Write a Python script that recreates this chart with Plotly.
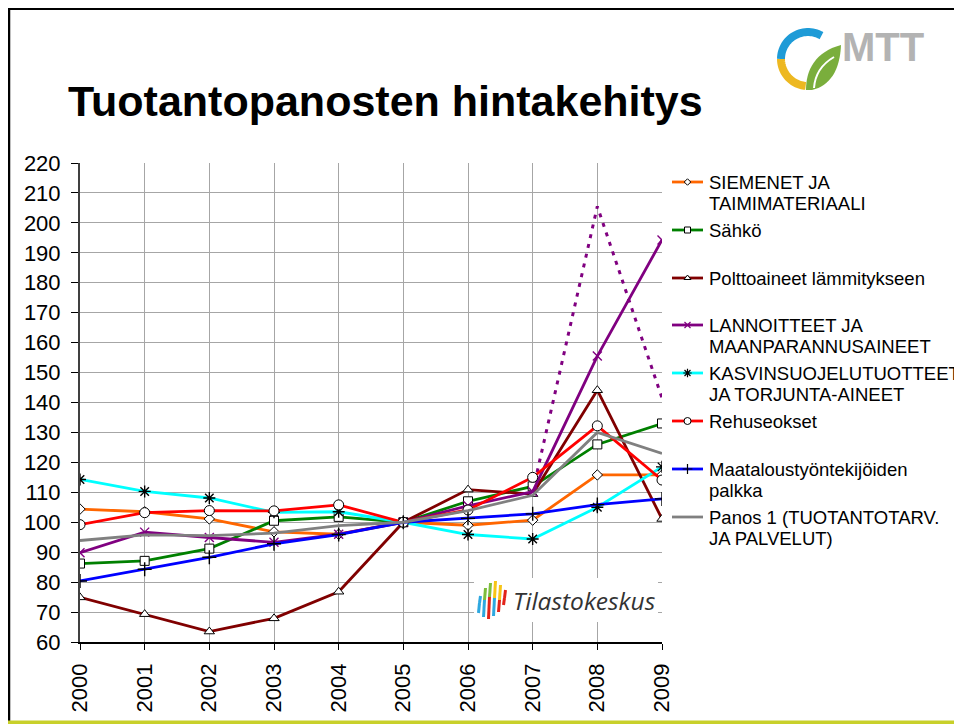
import math
import plotly.graph_objects as go

# ──────────────────────────────────────────────
#  Data (index)
# ──────────────────────────────────────────────
years = [2000, 2001, 2002, 2003, 2004, 2005, 2006, 2007, 2008, 2009]

siemenet = [104.4, 103.5, 101.1, 96.8, 96.0, 100, 99.0, 100.7, 115.8, 115.8]
sahko = [86.2, 87.1, 91.2, 100.5, 101.8, 100, 107.0, 112.0, 126.0, 133.0]
polttoaineet = [74.9, 69.3, 63.5, 67.9, 76.8, 100, 110.9, 109.4, 144.1, 101.1]
lannoitteet = [89.8, 96.7, 94.9, 93.3, 96.0, 100, 105.5, 110.2, 155.5, 194.3]
kasvinsuojelu = [114.3, 110.3, 108.1, 103.3, 103.5, 100, 95.9, 94.4, 105.0, 118.5]
rehuseokset = [99.2, 103.2, 103.9, 103.8, 105.8, 100, 104.1, 115.0, 132.2, 114.1]
palkka = [80.4, 84.3, 88.3, 92.8, 95.9, 100, 101.3, 102.8, 105.9, 107.8]
panos1 = [93.9, 95.8, 95.5, 96.4, 98.9, 100, 103.9, 109.0, 130.0, 123.0]

# dotted alternative fertiliser series (not in legend)
lannoitteet_alt_years = [2007, 2008, 2009]
lannoitteet_alt = [110.2, 205.5, 141.5]

y_ticks = list(range(60, 230, 10))

FONT = "Liberation Sans, Arial, sans-serif"
W, H = 962, 724
OFF = 8  # page body margin: figure pixel 0 lands at screen pixel 8

# name, values, colour, symbol, marker size, marker fill, marker outline, legend lines
series = [
    ("SIEMENET JA TAIMIMATERIAALI", siemenet, "#FF6600", "diamond", 8, "white", "black",
     ["SIEMENET JA", "TAIMIMATERIAALI"]),
    ("Sähkö", sahko, "#008000", "square", 9, "white", "black", ["Sähkö"]),
    ("Polttoaineet lämmitykseen", polttoaineet, "#800000", "triangle-up", 9, "white", "black",
     ["Polttoaineet lämmitykseen"]),
    ("LANNOITTEET JA MAANPARANNUSAINEET", lannoitteet, "#800080", "x-thin-open", 9, None, "#800080",
     ["LANNOITTEET JA", "MAANPARANNUSAINEET"]),
    ("KASVINSUOJELUTUOTTEET JA TORJUNTA-AINEET", kasvinsuojelu, "#00FFFF", "asterisk-open", 10, None, "black",
     ["KASVINSUOJELUTUOTTEET", "JA TORJUNTA-AINEET"]),
    ("Rehuseokset", rehuseokset, "#FF0000", "circle", 10, "white", "black", ["Rehuseokset"]),
    ("Maataloustyöntekijöiden palkka", palkka, "#0000FF", "cross-thin-open", 10, None, "black",
     ["Maataloustyöntekijöiden", "palkka"]),
    ("Panos 1 (TUOTANTOTARV. JA PALVELUT)", panos1, "#808080", None, 0, None, None,
     ["Panos 1 (TUOTANTOTARV.", "JA PALVELUT)"]),
]

# legend layout (screen rows of first text line)
legend_rows = [182, 230, 278, 325, 373, 421, 469, 517]
legend_line_gap = 21.5

fig = go.Figure()

fig.add_trace(go.Scatter(
    x=lannoitteet_alt_years, y=lannoitteet_alt, mode="lines",
    line=dict(color="#800080", width=3, dash="4px,6px"),
    showlegend=False, hoverinfo="skip"))

for name, vals, color, sym, size, fill, outline, _ in series:
    if sym:
        marker = dict(symbol=sym, size=size, color=fill if fill else outline,
                      line=dict(color=outline, width=1 if fill else 1.4))
        mode = "lines+markers"
    else:
        marker = None
        mode = "lines"
    fig.add_trace(go.Scatter(x=years, y=vals, mode=mode, name=name,
                             line=dict(color=color, width=2.8),
                             marker=marker, showlegend=False))

# ──────────────────────────────────────────────
#  Hand-drawn legend on a screen-pixel overlay axis
# ──────────────────────────────────────────────
annotations = []
for (name, vals, color, sym, size, fill, outline, lines), row in zip(series, legend_rows):
    fig.add_trace(go.Scatter(x=[672, 703], y=[row, row], mode="lines",
                             line=dict(color=color, width=2.8),
                             xaxis="x2", yaxis="y2", showlegend=False, hoverinfo="skip"))
    if sym:
        fig.add_trace(go.Scatter(
            x=[687.5], y=[row], mode="markers",
            marker=dict(symbol=sym, size=size - 3, color=fill if fill else outline,
                        line=dict(color=outline, width=1 if fill else 1.2)),
            xaxis="x2", yaxis="y2", showlegend=False, hoverinfo="skip"))
    for i, txt in enumerate(lines):
        annotations.append(dict(x=707, y=row + i * legend_line_gap, xref="x2", yref="y2",
                                text=txt, showarrow=False, xanchor="left", yanchor="middle",
                                font=dict(family=FONT, size=18.5, color="black")))

annotations.append(dict(x=66, y=101, xref="x2", yref="y2", text="<b>Tuotantopanosten hintakehitys</b>",
                        showarrow=False, xanchor="left", yanchor="middle",
                        font=dict(family=FONT, size=43, color="black")))

# Tilastokeskus badge text
annotations.append(dict(x=511, y=600, xref="x2", yref="y2", text="<i>Tilastokeskus</i>",
                        showarrow=False, xanchor="left", yanchor="middle",
                        font=dict(family="Open Sans, Arial, sans-serif", size=24.5, color="#333333")))
# MTT text
annotations.append(dict(x=840, y=47, xref="x2", yref="y2", text="<b>MTT</b>",
                        showarrow=False, xanchor="left", yanchor="middle",
                        font=dict(family=FONT, size=40, color="#B3B3B3")))

# ──────────────────────────────────────────────
#  Slide frame and logos (screen pixels)
# ──────────────────────────────────────────────
shapes = [
    dict(type="line", xref="x2", yref="y2", x0=8, x1=W + OFF, y0=8.5, y1=8.5, line=dict(color="black", width=3)),
    dict(type="line", xref="x2", yref="y2", x0=9, x1=9, y0=8, y1=H, line=dict(color="black", width=2.5)),
    dict(type="line", xref="x2", yref="y2", x0=8, x1=W + OFF, y0=722.5, y1=722.5,
         line=dict(color="#C8D02A", width=4)),
    dict(type="rect", xref="x2", yref="y2", x0=474, x1=658, y0=578, y1=622,
         fillcolor="white", line=dict(width=0), layer="above"),
]

# Tilastokeskus bars: (x, top colour, bottom colour, top, split, bottom)
badge_bars = [(479, "#2EA8E0", "#2EA8E0", 596, 603, 613),
              (484, "#7DBE3C", "#2EA8E0", 588, 600, 617),
              (489, "#7DBE3C", "#E2231A", 583, 597, 619),
              (494, "#F7C518", "#2EA8E0", 581, 598, 616),
              (499, "#F7C518", "#E2231A", 585, 600, 612),
              (504, "#E2231A", "#E2231A", 590, 598, 605)]
for bx, ctop, cbot, ytop, ysplit, ybot in badge_bars:
    shapes.append(dict(type="line", xref="x2", yref="y2", x0=bx + 1.5, x1=bx + 0.5, y0=ytop, y1=ysplit,
                       line=dict(color=ctop, width=3), layer="above"))
    shapes.append(dict(type="line", xref="x2", yref="y2", x0=bx + 0.5, x1=bx - 0.5, y0=ysplit, y1=ybot,
                       line=dict(color=cbot, width=3), layer="above"))


def arc_path(cx, cy, r, a0, a1, n=30):
    pts = []
    for k in range(n + 1):
        a = math.radians(a0 + (a1 - a0) * k / n)
        pts.append(f"{cx + r * math.cos(a):.2f},{cy + r * math.sin(a):.2f}")
    return "M" + " L".join(pts)


cx, cy, r = 808, 59, 27
shapes.append(dict(type="path", xref="x2", yref="y2", path=arc_path(cx, cy, r, -60, -180),
                   line=dict(color="#1E9BD7", width=8)))
shapes.append(dict(type="path", xref="x2", yref="y2", path=arc_path(cx, cy, r, 180, 95),
                   line=dict(color="#EDB821", width=8)))
shapes.append(dict(type="path", xref="x2", yref="y2",
                   path="M 806 90 C 806 70, 815 52, 841 45 C 840 70, 830 86, 812 90 Z",
                   fillcolor="#7AAE3C", line=dict(width=0)))
shapes.append(dict(type="path", xref="x2", yref="y2",
                   path="M 814 88 C 815 74, 822 64, 834 57",
                   line=dict(color="white", width=2)))

fig.update_layout(
    width=W, height=H, autosize=False,
    margin=dict(l=0, r=0, t=0, b=0, autoexpand=False),
    paper_bgcolor="white", plot_bgcolor="rgba(0,0,0,0)",
    font=dict(family=FONT, color="black"),
    showlegend=False,
    xaxis=dict(domain=[(80 - OFF) / W, (662 - OFF) / W], range=[2000, 2009], tickmode="array",
               tickvals=years, ticktext=[str(y) for y in years], tickangle=-90, tickfont=dict(size=22),
               ticks="outside", ticklen=6, tickcolor="black", ticklabelstandoff=5,
               showgrid=True, gridcolor="#A6A6A6", gridwidth=1, automargin=False,
               showline=True, linecolor="black", linewidth=1.5, zeroline=False, anchor="y"),
    yaxis=dict(domain=[1 - (642 - OFF) / H, 1 - (163 - OFF) / H], range=[60, 220], tickmode="array",
               tickvals=y_ticks, tickfont=dict(size=22), ticks="outside", ticklen=7, tickcolor="black",
               ticklabelstandoff=6, automargin=False,
               showgrid=True, gridcolor="#A6A6A6", gridwidth=1,
               showline=True, linecolor="#404040", linewidth=2, zeroline=False, anchor="x"),
    xaxis2=dict(domain=[0, 1], range=[OFF, W + OFF], visible=False, anchor="y2", fixedrange=True,
                automargin=False),
    yaxis2=dict(domain=[0, 1], range=[H + OFF, OFF], visible=False, anchor="x2", fixedrange=True,
                automargin=False),
    annotations=annotations,
    shapes=shapes,
)

fig.write_html("out.html")
